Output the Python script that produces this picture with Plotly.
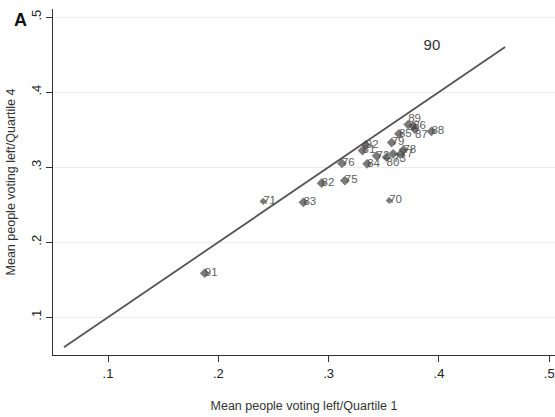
import plotly.graph_objects as go

# ---- data ----
years = ['70', '71', '72', '73', '75', '76', '77', '78', '79', '80', '81',
         '82', '83', '84', '85', '86', '87', '88', '89', '91', '92']
q1 = [0.3549, 0.2406, 0.3434, 0.3585, 0.3147, 0.3120, 0.3650, 0.3678, 0.3571, 0.3525, 0.3307,
      0.2936, 0.2771, 0.3349, 0.3637, 0.3766, 0.3782, 0.3932, 0.3721, 0.1877, 0.3337]
q4 = [0.2555, 0.2544, 0.3151, 0.3177, 0.2821, 0.3051, 0.3171, 0.3231, 0.3328, 0.3133, 0.3221,
      0.2787, 0.2531, 0.3044, 0.3444, 0.3547, 0.3504, 0.3475, 0.3568, 0.1587, 0.3297]
small_years = ['70', '71']
label_pos = {'89': 'top right', '87': 'bottom right', '73': 'bottom right', '80': 'bottom right'}

year90_label = ['90']
year90_x = [0.3936]
year90_y = [0.4617]

diag = [0.06, 0.46]

tick_vals = [0.1, 0.2, 0.3, 0.4, 0.5]
tick_text = ['.1', '.2', '.3', '.4', '.5']

FONT = 'Arial, Liberation Sans, Helvetica, sans-serif'
MARK = '#424242'

sizes = [5.5 if y in small_years else 7.5 for y in years]
positions = [label_pos.get(y, 'middle right') for y in years]

fig = go.Figure()
# 45-degree line
fig.add_trace(go.Scatter(x=diag, y=diag, mode='lines',
                         line=dict(color='#555555', width=1.8), hoverinfo='skip'))
# labels (drawn under markers)
fig.add_trace(go.Scatter(x=q1, y=q4, mode='text', text=years, textposition=positions,
                         textfont=dict(family=FONT, size=11.5, color='#5e5e5e')))
# markers
fig.add_trace(go.Scatter(x=q1, y=q4, mode='markers',
                         marker=dict(symbol='diamond', size=sizes, color=MARK,
                                     line=dict(width=0))))
# label 90
fig.add_trace(go.Scatter(x=year90_x, y=year90_y, mode='text', text=year90_label,
                         textposition='middle center',
                         textfont=dict(family=FONT, size=15, color='#333333')))

fig.update_layout(
    width=555, height=417,
    margin=dict(l=53, r=0, t=9, b=62),
    paper_bgcolor='white', plot_bgcolor='white',
    showlegend=False,
    font=dict(family=FONT, color='#333333'),
    xaxis=dict(range=[0.0501, 0.5052], tickvals=tick_vals, ticktext=tick_text,
               automargin=False, ticklabeloverflow='allow',
               ticks='outside', ticklen=6, tickcolor='#333333', tickwidth=1.2,
               showline=True, linecolor='#333333', linewidth=1.3,
               showgrid=False, zeroline=False,
               tickfont=dict(family=FONT, size=13, color='#222222'),
               title=dict(text='Mean people voting left/Quartile 1',
                          font=dict(family=FONT, size=12.5, color='#333333'),
                          standoff=21)),
    yaxis=dict(range=[0.0497, 0.5107], tickvals=tick_vals, ticktext=tick_text,
               tickangle=-90, automargin=False, ticklabeloverflow='allow',
               ticks='outside', ticklen=6, tickcolor='#333333', tickwidth=1.2,
               showline=True, linecolor='#333333', linewidth=1.3,
               showgrid=True, gridcolor='#ececec', gridwidth=1, zeroline=False,
               tickfont=dict(family=FONT, size=13, color='#222222'),
               title=dict(text='Mean people voting left/Quartile 4',
                          font=dict(family=FONT, size=12.5, color='#333333'),
                          standoff=10)),
    annotations=[dict(text='<b>A</b>', xref='paper', yref='paper',
                      x=-41 / 502, y=1 + 1 / 346, xanchor='left', yanchor='top',
                      showarrow=False, font=dict(family=FONT, size=18, color='#111111'))],
)

fig.write_html('out.html', config={'displayModeBar': False},
               post_script="document.body.style.margin='0';document.body.style.overflow='hidden';")
